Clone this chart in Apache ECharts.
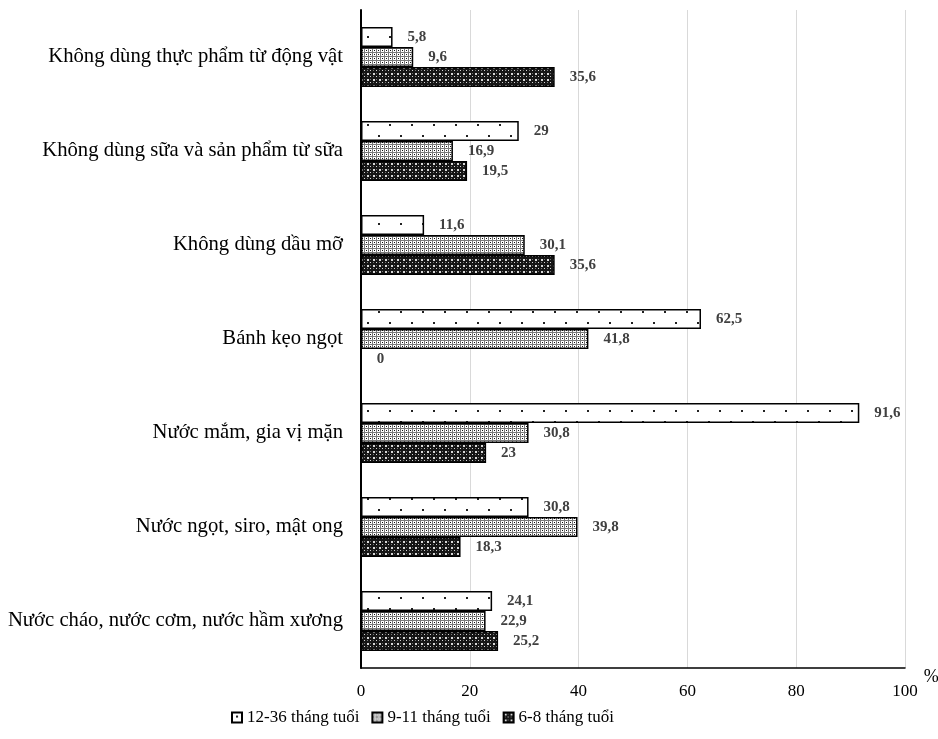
<!DOCTYPE html>
<html>
<head>
<meta charset="utf-8">
<script src="https://cdn.jsdelivr.net/npm/echarts@6/dist/echarts.min.js"></script>
<style>html,body{margin:0;padding:0;background:#fff;}#c{width:938px;height:739px;}</style>
</head>
<body>
<div id="c"></div>
<script>
var categories = [
  'Không dùng thực phẩm từ động vật',
  'Không dùng sữa và sản phẩm từ sữa',
  'Không dùng dầu mỡ',
  'Bánh kẹo ngọt',
  'Nước mắm, gia vị mặn',
  'Nước ngọt, siro, mật ong',
  'Nước cháo, nước cơm, nước hầm xương'
];
var seriesNames = ['12-36 tháng tuổi', '9-11 tháng tuổi', '6-8 tháng tuổi'];
var v12_36 = [5.8, 29, 11.6, 62.5, 91.6, 30.8, 24.1];
var v9_11 = [9.6, 16.9, 30.1, 41.8, 30.8, 39.8, 22.9];
var v6_8 = [35.6, 19.5, 35.6, 0, 23, 18.3, 25.2];
var xTicks = [0, 20, 40, 60, 80, 100];

function makeTile(w, h, draw) {
  var c = document.createElement('canvas');
  c.width = w; c.height = h;
  var ctx = c.getContext('2d');
  draw(ctx);
  return c;
}
var patSparse = makeTile(22, 22, function (ctx) {
  ctx.fillStyle = '#fff'; ctx.fillRect(0, 0, 22, 22);
  ctx.fillStyle = '#222';
  ctx.fillRect(4, 3, 2, 2);
  ctx.fillRect(15, 14, 2, 2);
});
var patDense = makeTile(4, 4, function (ctx) {
  ctx.fillStyle = '#7a7a7a'; ctx.fillRect(0, 0, 4, 4);
  ctx.fillStyle = '#fff';
  ctx.fillRect(1, 1, 3, 3);
  ctx.fillStyle = '#111';
  ctx.fillRect(2, 2, 1, 1);
});
var patCross = makeTile(6, 6, function (ctx) {
  ctx.fillStyle = '#161616'; ctx.fillRect(0, 0, 6, 6);
  ctx.fillStyle = '#d8d8d8';
  ctx.fillRect(1, 1, 2, 2);
  ctx.fillRect(4, 4, 1, 1);
  ctx.fillStyle = '#777';
  ctx.fillRect(4, 1, 1, 1);
  ctx.fillRect(1, 4, 1, 1);
});
var patterns = [patSparse, patDense, patCross];
var values = [v12_36, v9_11, v6_8];

var chart = echarts.init(document.getElementById('c'));
var series = seriesNames.map(function (name, i) {
  return {
    name: name,
    type: 'bar',
    data: values[i],
    barWidth: 20,
    barGap: '0%',
    itemStyle: {
      color: { image: patterns[i], repeat: 'repeat' },
      borderColor: '#000',
      borderWidth: 1.5
    },
    label: {
      show: true,
      position: 'right',
      distance: 15,
      fontFamily: 'Liberation Serif',
      fontWeight: 'bold',
      fontSize: 15,
      color: '#404040',
      formatter: function (p) { return String(p.value).replace('.', ','); }
    }
  };
});

chart.setOption({
  animation: false,
  backgroundColor: '#fff',
  grid: { left: 361, right: 33, top: 10, bottom: 71, outerBoundsMode: 'none', containLabel: false },
  legend: {
    bottom: 8,
    left: 226,
    itemWidth: 10,
    itemHeight: 10,
    itemGap: 12,
    textStyle: { fontFamily: 'Liberation Serif', fontSize: 17, color: '#000' },
    data: seriesNames.map(function (n) { return { name: n, icon: 'rect' }; })
  },
  xAxis: {
    type: 'value',
    min: 0,
    max: 100,
    interval: 20,
    name: '%',
    nameLocation: 'end',
    nameGap: 10,
    nameTextStyle: { fontFamily: 'Liberation Serif', fontSize: 18, color: '#000', verticalAlign: 'top' },
    axisLine: { show: true, lineStyle: { color: '#000', width: 1.5 } },
    axisTick: { show: false },
    axisLabel: {
      margin: 15,
      fontFamily: 'Liberation Serif',
      fontSize: 17,
      color: '#000',
      customValues: xTicks
    },
    splitLine: { show: true, lineStyle: { color: '#d9d9d9', width: 1 } }
  },
  yAxis: {
    type: 'category',
    data: categories,
    inverse: true,
    axisLine: { show: true, lineStyle: { color: '#000', width: 2 } },
    axisTick: { show: false },
    axisLabel: { margin: 18, fontFamily: 'Liberation Serif', fontSize: 20.7, color: '#000' },
    splitLine: { show: false }
  },
  series: series
});
</script>
</body>
</html>
